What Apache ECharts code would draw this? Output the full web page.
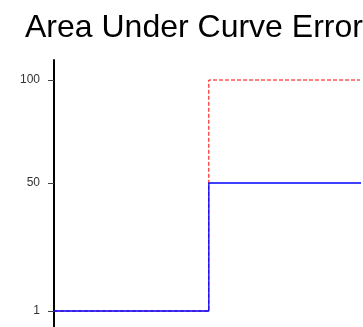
<!DOCTYPE html>
<html>
<head>
<meta charset="utf-8">
<script src="https://cdn.jsdelivr.net/npm/echarts@6/dist/echarts.min.js"></script>
<style>
html,body{margin:0;padding:0;background:#fff;}
#chart{width:363px;height:327px;}
</style>
</head>
<body>
<div id="chart"></div>
<script>
// ---- data ----
var titleText = 'Area Under Curve Error';
var xValues = [0, 1, 2];
var predicted = [1, 50, 50];     // blue solid step
var target = [1, 100, 100];      // red dashed step
var yTickValues = [1, 50, 100];

// ---- non-uniform y scale (piecewise linear between tick values) ----
var yTickUnits = [0, 128, 231];
function scaleY(v) {
  for (var i = 0; i < yTickValues.length - 1; i++) {
    var a = yTickValues[i], b = yTickValues[i + 1];
    if (v <= b || i === yTickValues.length - 2) {
      var t = (v - a) / (b - a);
      return yTickUnits[i] + t * (yTickUnits[i + 1] - yTickUnits[i]);
    }
  }
}
function toPoints(ys) {
  return xValues.map(function (x, i) { return [x, scaleY(ys[i])]; });
}

var chart = echarts.init(document.getElementById('chart'), null, {renderer: 'canvas'});
chart.setOption({
  animation: false,
  backgroundColor: '#fff',
  title: {
    text: titleText,
    left: 20,
    top: 7,
    textStyle: {
      fontFamily: 'Liberation Sans, Arial, sans-serif',
      fontSize: 32,
      fontWeight: 'normal',
      color: '#000'
    }
  },
  grid: {left: 54, right: 4, top: 60, bottom: 0, containLabel: false},
  xAxis: {
    type: 'value',
    min: 0,
    max: 1.97,
    show: false
  },
  yAxis: {
    type: 'value',
    min: -16,
    max: 251,
    splitLine: {show: false},
    axisLine: {show: true, lineStyle: {color: '#000', width: 2}},
    axisTick: {
      show: true,
      length: 6,
      customValues: yTickValues.map(scaleY),
      lineStyle: {color: '#444', width: 1}
    },
    axisLabel: {
      show: true,
      margin: 14,
      customValues: yTickValues.map(scaleY),
      fontFamily: 'Liberation Sans, Arial, sans-serif',
      fontSize: 12,
      color: '#333',
      formatter: function (val) {
        for (var i = 0; i < yTickValues.length; i++) {
          if (Math.abs(scaleY(yTickValues[i]) - val) < 1e-6) return String(yTickValues[i]);
        }
        return '';
      }
    }
  },
  series: [
    {
      type: 'line',
      step: 'end',
      data: toPoints(target),
      showSymbol: false,
      clip: true,
      lineStyle: {color: '#ff0000', width: 1, type: [4, 2]},
      z: 2
    },
    {
      type: 'line',
      step: 'end',
      data: toPoints(predicted),
      showSymbol: false,
      clip: true,
      lineStyle: {color: '#0000ff', width: 1.3},
      z: 3
    }
  ]
});
</script>
</body>
</html>
